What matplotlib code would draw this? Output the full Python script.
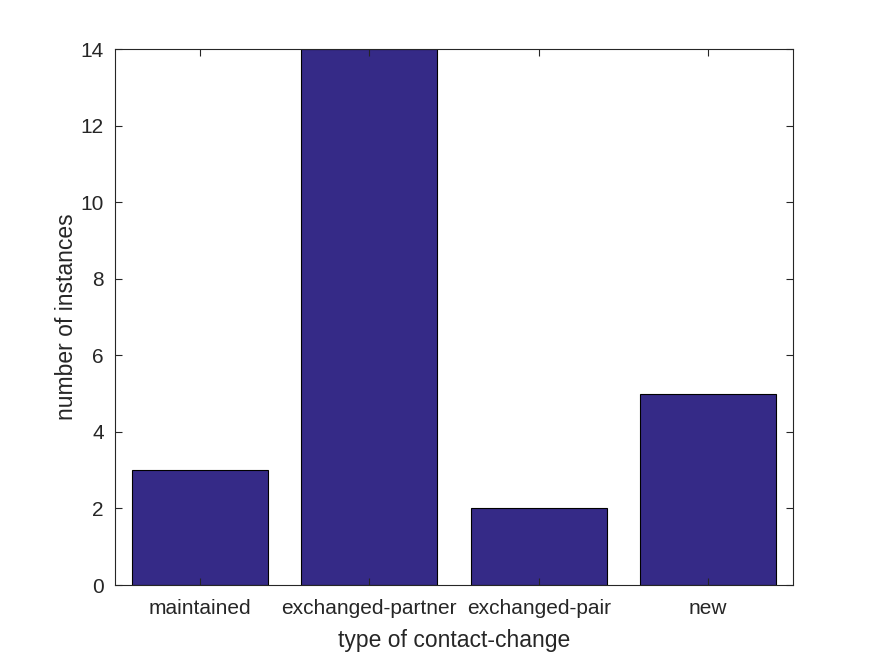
import matplotlib
matplotlib.use("Agg")
import matplotlib.pyplot as plt

categories = ["maintained", "exchanged-partner", "exchanged-pair", "new"]
counts = [3, 14, 2, 5]

plt.rcParams['font.family'] = ['Liberation Sans', 'DejaVu Sans']
fig = plt.figure(figsize=(8.75, 6.56), dpi=100)
ax = fig.add_axes([0.1314, 0.1082, 0.7749, 0.8171])
x = list(range(1, len(categories) + 1))
ax.bar(x, counts, width=0.8, color='#352a87', edgecolor='black', linewidth=0.8)
ax.set_xlim(0.5, 4.5)
ax.set_ylim(0, 14)
ax.set_xticks(x)
ax.set_xticklabels(categories)
ax.set_yticks(range(0, 15, 2))
tc = '#262626'
ax.tick_params(direction='in', top=True, right=True, length=5, width=0.8,
               colors=tc, labelsize=15, labelcolor=tc)
ax.tick_params(axis='x', pad=10)
ax.tick_params(axis='y', pad=8)
for s in ax.spines.values():
    s.set_color(tc)
    s.set_linewidth(0.8)
ax.set_xlabel("type of contact-change", fontsize=16.5, color=tc, labelpad=8)
ax.set_ylabel("number of instances", fontsize=16.5, color=tc, labelpad=2)
fig.savefig("out.png", dpi=100)
